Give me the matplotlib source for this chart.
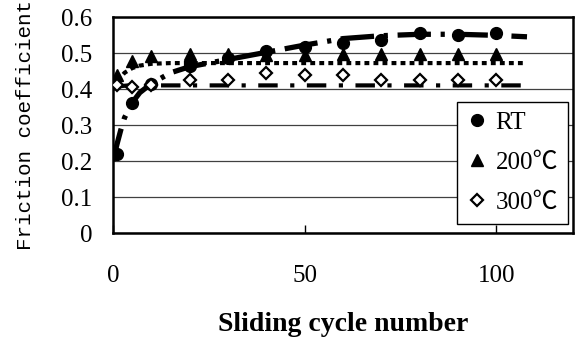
import matplotlib
matplotlib.use("Agg")
import matplotlib.pyplot as plt

# Measured friction coefficients
cycles = [1, 5, 10, 20, 30, 40, 50, 60, 70, 80, 90, 100]
rt_mu = [0.22, 0.36, 0.415, 0.465, 0.485, 0.505, 0.517, 0.528, 0.535, 0.556, 0.55, 0.556]
t200_mu = [0.44, 0.478, 0.492, 0.498, 0.498, 0.495, 0.494, 0.498, 0.498, 0.497, 0.497, 0.497]
t300_mu = [0.41, 0.405, 0.41, 0.425, 0.425, 0.444, 0.44, 0.44, 0.425, 0.425, 0.425, 0.425]

# Trend curves
rt_fit_x = [0, 1, 2, 3, 5, 7, 10, 15, 20, 30, 40, 50, 60, 70, 80, 90, 100, 108]
rt_fit_y = [0.20, 0.245, 0.285, 0.32, 0.362, 0.39, 0.415, 0.445, 0.462, 0.482, 0.502, 0.522, 0.54, 0.548, 0.552, 0.552, 0.549, 0.545]
t200_fit_x = [0, 1, 3, 5, 7, 10, 15, 107]
t200_fit_y = [0.40, 0.42, 0.445, 0.458, 0.465, 0.47, 0.472, 0.472]
t300_fit_x = [0, 1, 2, 4, 107]
t300_fit_y = [0.40, 0.405, 0.408, 0.41, 0.41]

labels = ["RT", "200\u2103", "300\u2103"]
x_ticks = [0, 50, 100]
y_ticks = [0, 0.1, 0.2, 0.3, 0.4, 0.5, 0.6]

plt.rcParams["lines.scale_dashes"] = False
serif = ["Liberation Serif", "Noto Sans CJK JP", "DejaVu Serif"]

fig = plt.figure(figsize=(5.75, 3.42), dpi=100)
ax = fig.add_axes([113 / 575, 1 - 233 / 342, 460 / 575, 216 / 342])

# trend lines
ax.plot(rt_fit_x, rt_fit_y, color="black", lw=3.8,
        dashes=(24, 7, 3, 7), solid_capstyle="butt", dash_capstyle="butt", zorder=3)
ax.plot(t200_fit_x, t200_fit_y, color="black", lw=3.0,
        dashes=(3.5, 3), dash_capstyle="butt", zorder=3)
ax.plot(t300_fit_x, t300_fit_y, color="black", lw=3.0,
        dashes=(14, 9, 3, 9), dash_capstyle="butt", zorder=3)

# data markers
h1, = ax.plot(cycles, rt_mu, "o", color="black", ms=8.5, ls="none", zorder=4)
h2, = ax.plot(cycles, t200_mu, "^", color="black", ms=8.5, ls="none", zorder=4)
h3, = ax.plot(cycles, t300_mu, "D", mfc="white", mec="black", mew=1.6, ms=6.5,
              ls="none", zorder=4)

ax.set_xlim(0, 120)
ax.set_ylim(0, 0.6)
ax.set_xticks(x_ticks)
ax.set_xticklabels([str(v) for v in x_ticks])
ax.set_yticks(y_ticks)
ax.set_yticklabels(["0"] + [f"{v:.1f}" for v in y_ticks[1:]])
ax.grid(axis="y", color="#404040", lw=0.9)
ax.set_axisbelow(True)
ax.tick_params(axis="x", direction="in", length=6, width=1, pad=23,
               labelsize=18)
ax.tick_params(axis="y", length=0, pad=15, labelsize=18)
for lab in ax.get_xticklabels() + ax.get_yticklabels():
    lab.set_family(serif)
for sp in ax.spines.values():
    sp.set_linewidth(1.8)

ax.set_xlabel("Sliding cycle number", family=serif, fontsize=20,
              fontweight="bold", labelpad=18)
ax.set_ylabel("Friction coefficient", family=["Liberation Mono", "DejaVu Sans Mono"],
              fontsize=15, labelpad=19)

leg = ax.legend([h1, h2, h3], labels, loc="lower right",
                bbox_to_anchor=(568 / 575, 1 - 224 / 342), bbox_transform=fig.transFigure,
                frameon=True, fancybox=False, framealpha=1, edgecolor="black",
                prop={"family": serif, "size": 18}, handlelength=0.8,
                handletextpad=0.35, borderpad=0.4, labelspacing=0.7,
                borderaxespad=0)
leg.get_frame().set_linewidth(1.0)

fig.savefig("out.png", dpi=100)
